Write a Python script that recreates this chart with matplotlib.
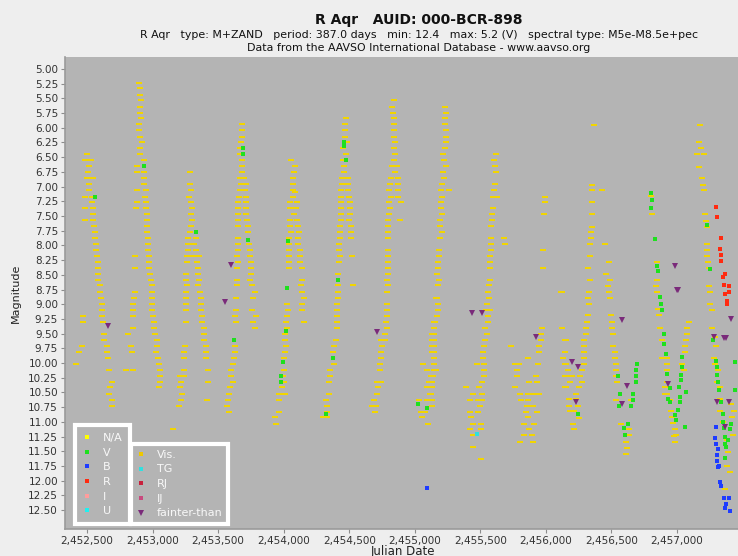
import matplotlib
matplotlib.use("Agg")
import matplotlib.pyplot as plt
from matplotlib.lines import Line2D
from matplotlib.path import Path
from matplotlib.ticker import FuncFormatter
import numpy as np

# Visual (Vis.) estimates, one list per cycle: (Julian Date, magnitude)
cycle01 = [(2452497,6.45),(2452487,6.55),(2452533,6.55),(2452518,6.65),(2452510,6.76),(2452497,6.86),(2452520,6.86),
           (2452543,6.86),(2452515,6.96),(2452518,7.06),(2452485,7.17),(2452536,7.17),(2452536,7.27),(2452485,7.36),
           (2452548,7.36),(2452548,7.47),(2452487,7.57),(2452548,7.57),(2452556,7.67),(2452564,7.78),(2452564,7.88),
           (2452569,7.98),(2452571,8.08),(2452576,8.18),(2452587,8.29),(2452584,8.38),(2452587,8.49),(2452587,8.59),
           (2452599,8.68),(2452602,8.79),(2452604,8.89),(2452612,8.99),(2452612,9.10),(2452472,9.20),(2452617,9.20),
           (2452467,9.30),(2452620,9.30),(2452630,9.51),(2452630,9.61),(2452464,9.71),(2452650,9.71),(2452439,9.81),
           (2452650,9.81),(2452658,9.91),(2452413,10.02),(2452671,10.12),(2452694,10.32),(2452678,10.41),
           (2452671,10.52),(2452691,10.63),(2452689,10.73)]
cycle02 = [(2452895,5.23),(2452905,5.33),(2452903,5.44),(2452908,5.53),(2452905,5.64),(2452905,5.74),(2452908,5.84),
           (2452900,5.94),(2452900,6.04),(2452905,6.15),(2452918,6.24),(2452905,6.34),(2452905,6.45),(2452931,6.55),
           (2452880,6.65),(2452880,6.76),(2452931,6.76),(2452933,6.86),(2452936,6.96),(2452880,7.06),(2452951,7.06),
           (2452946,7.17),(2452880,7.27),(2452948,7.27),(2452875,7.36),(2452951,7.36),(2452956,7.47),(2452961,7.57),
           (2452959,7.67),(2452961,7.78),(2452966,7.88),(2452966,7.98),(2452964,8.08),(2452867,8.18),(2452969,8.18),
           (2452971,8.29),(2452869,8.38),(2452974,8.38),(2452982,8.49),(2452987,8.59),(2452994,8.68),(2452864,8.79),
           (2452994,8.79),(2452862,8.89),(2452994,8.89),(2452849,8.99),(2452997,8.99),(2452847,9.10),(2452994,9.10),
           (2452847,9.20),(2453007,9.20),(2453012,9.30),(2452849,9.40),(2453012,9.40),(2452813,9.51),(2453017,9.51),
           (2453030,9.61),(2452839,9.71),(2453033,9.71),(2452841,9.81),(2453025,9.81),(2453045,9.91),(2453048,10.02),
           (2452796,10.12),(2452854,10.12),(2453058,10.12),(2453053,10.22),(2453058,10.32),(2453048,10.41)]
cycle03 = [(2453285,6.76),(2453287,6.96),(2453295,7.06),(2453280,7.17),(2453290,7.27),(2453300,7.36),(2453295,7.47),
           (2453300,7.57),(2453295,7.67),(2453287,7.78),(2453267,7.88),(2453331,7.88),(2453269,7.98),(2453318,7.98),
           (2453267,8.08),(2453331,8.08),(2453262,8.18),(2453305,8.18),(2453351,8.18),(2453262,8.29),(2453341,8.29),
           (2453343,8.38),(2453257,8.49),(2453348,8.49),(2453257,8.59),(2453351,8.59),(2453262,8.68),(2453346,8.68),
           (2453252,8.79),(2453359,8.79),(2453257,8.89),(2453366,8.89),(2453254,8.99),(2453369,8.99),(2453252,9.10),
           (2453366,9.10),(2453376,9.20),(2453252,9.30),(2453379,9.30),(2453389,9.40),(2453389,9.51),(2453394,9.61),
           (2453247,9.71),(2453404,9.71),(2453239,9.81),(2453404,9.81),(2453236,9.91),(2453404,9.91),(2453236,10.12),
           (2453420,10.12),(2453206,10.22),(2453236,10.22),(2453219,10.32),(2453420,10.32),(2453206,10.41),
           (2453226,10.52),(2453216,10.63),(2453417,10.63),(2453198,10.73),(2453155,11.13)]
cycle04 = [(2453682,5.94),(2453682,6.04),(2453682,6.15),(2453677,6.24),(2453670,6.34),(2453670,6.45),(2453682,6.55),
           (2453682,6.65),(2453682,6.76),(2453667,6.86),(2453700,6.86),(2453672,6.96),(2453710,6.96),(2453664,7.06),
           (2453705,7.06),(2453657,7.17),(2453713,7.17),(2453652,7.27),(2453715,7.27),(2453652,7.36),(2453715,7.36),
           (2453652,7.47),(2453715,7.47),(2453652,7.57),(2453723,7.57),(2453652,7.67),(2453726,7.67),(2453728,7.78),
           (2453652,7.88),(2453652,7.98),(2453738,7.98),(2453652,8.08),(2453741,8.08),(2453642,8.18),(2453741,8.18),
           (2453652,8.29),(2453749,8.29),(2453644,8.38),(2453749,8.38),(2453751,8.49),(2453644,8.59),(2453746,8.59),
           (2453644,8.68),(2453761,8.68),(2453779,8.79),(2453639,8.89),(2453766,8.89),(2453639,9.10),(2453759,9.10),
           (2453631,9.20),(2453789,9.20),(2453634,9.30),(2453764,9.30),(2453784,9.40),(2453626,9.71),(2453629,9.81),
           (2453624,9.91),(2453614,10.02),(2453598,10.12),(2453601,10.22),(2453611,10.32),(2453588,10.41),
           (2453580,10.52),(2453573,10.63),(2453568,10.73),(2453585,10.83)]
cycle05 = [(2454059,6.55),(2454085,6.65),(2454077,6.76),(2454072,6.86),(2454070,6.96),(2454070,7.06),(2454090,7.09),
           (2454070,7.17),(2454052,7.27),(2454098,7.27),(2454047,7.36),(2454095,7.36),(2454077,7.47),(2454052,7.57),
           (2454103,7.57),(2454052,7.67),(2454108,7.67),(2454057,7.78),(2454118,7.78),(2454044,7.88),(2454108,7.88),
           (2454042,7.98),(2454113,7.98),(2454039,8.08),(2454121,8.08),(2454039,8.18),(2454123,8.18),(2454039,8.29),
           (2454128,8.29),(2454039,8.38),(2454138,8.38),(2454141,8.59),(2454136,8.68),(2454143,8.79),(2454154,8.89),
           (2454026,8.99),(2454143,8.99),(2454034,9.10),(2454143,9.10),(2454026,9.20),(2454019,9.30),(2454154,9.30),
           (2454026,9.40),(2454014,9.51),(2454011,9.61),(2454016,9.71),(2454014,9.81),(2454001,9.91),(2454001,10.12),
           (2453996,10.22),(2454006,10.32),(2453986,10.41),(2453965,10.52),(2454008,10.52),(2453965,10.63),
           (2453968,10.83),(2453937,10.92),(2453945,11.03)]
cycle06 = [(2454472,5.84),(2454467,5.94),(2454465,6.04),(2454465,6.15),(2454480,6.24),(2454455,6.34),(2454472,6.45),
           (2454455,6.55),(2454460,6.65),(2454460,6.76),(2454447,6.86),(2454493,6.86),(2454447,6.96),(2454493,6.96),
           (2454434,7.06),(2454493,7.06),(2454434,7.17),(2454498,7.17),(2454434,7.27),(2454503,7.27),(2454434,7.36),
           (2454503,7.36),(2454434,7.47),(2454503,7.47),(2454434,7.57),(2454498,7.57),(2454429,7.67),(2454516,7.67),
           (2454429,7.78),(2454511,7.78),(2454429,7.88),(2454516,7.88),(2454421,7.98),(2454421,8.08),(2454427,8.18),
           (2454523,8.18),(2454424,8.29),(2454414,8.49),(2454414,8.68),(2454531,8.68),(2454416,8.79),(2454414,8.89),
           (2454409,8.99),(2454409,9.10),(2454404,9.20),(2454409,9.30),(2454404,9.40),(2454396,9.61),(2454383,9.71),
           (2454378,9.81),(2454383,10.02),(2454353,10.12),(2454353,10.22),(2454348,10.32),(2454345,10.52),
           (2454320,10.63),(2454327,10.73),(2454332,10.83),(2454302,10.92),(2454327,10.92)]
cycle07 = [(2454842,5.53),(2454829,5.64),(2454837,5.74),(2454842,5.84),(2454842,5.94),(2454842,6.04),(2454842,6.15),
           (2454847,6.24),(2454842,6.34),(2454850,6.45),(2454842,6.55),(2454829,6.65),(2454862,6.65),(2454850,6.76),
           (2454816,6.86),(2454872,6.86),(2454811,6.96),(2454875,6.96),(2454806,7.06),(2454875,7.06),(2454816,7.17),
           (2454875,7.17),(2454806,7.27),(2454893,7.27),(2454809,7.36),(2454806,7.47),(2454798,7.57),(2454885,7.57),
           (2454798,7.67),(2454798,7.78),(2454798,7.88),(2454798,8.08),(2454798,8.18),(2454793,8.29),(2454796,8.38),
           (2454796,8.49),(2454791,8.59),(2454793,8.68),(2454791,8.79),(2454791,8.99),(2454788,9.10),(2454788,9.20),
           (2454781,9.30),(2454791,9.40),(2454773,9.51),(2454740,9.61),(2454773,9.61),(2454753,9.71),(2454740,9.81),
           (2454740,9.91),(2454735,10.02),(2454735,10.12),(2454714,10.32),(2454740,10.32),(2454717,10.41),
           (2454712,10.52),(2454689,10.63),(2454676,10.73),(2454702,10.73),(2454694,10.83)]
cycle08 = [(2455160,8.89),(2455148,9.30),(2455148,9.40),(2455135,9.51),(2455135,9.61),(2455135,9.71),(2455135,9.81),
           (2455148,9.91),(2455066,10.02),(2455148,10.02),(2455097,10.12),(2455148,10.12),(2455122,10.22),
           (2455109,10.32),(2455092,10.41),(2455117,10.52),(2455033,10.63),(2455097,10.63),(2455135,10.73),
           (2455076,10.83),(2455046,10.83),(2455058,10.92),(2455102,11.03),
           (2455232,5.64),(2455237,5.74),(2455232,5.84),(2455229,5.94),(2455237,6.04),(2455237,6.15),(2455237,6.24),
           (2455232,6.34),(2455214,6.45),(2455224,6.55),(2455237,6.65),(2455214,6.76),(2455224,6.86),(2455209,6.96),
           (2455199,7.06),(2455262,7.06),(2455204,7.17),(2455199,7.27),(2455199,7.36),(2455204,7.47),(2455194,7.57),
           (2455194,7.67),(2455204,7.78),(2455194,7.88),(2455186,8.08),(2455186,8.18),(2455181,8.29),(2455178,8.38),
           (2455173,8.49),(2455186,8.59),(2455178,8.68),(2455173,8.89),(2455178,8.99),(2455178,9.10),(2455168,9.20),
           (2455158,9.30),(2455148,9.40),(2455143,9.51),(2455143,9.61),(2455143,9.71),(2455143,9.81),(2455148,9.91),
           (2455143,10.02),(2455143,10.12),(2455160,10.12),(2455137,10.22),(2455130,10.32),(2455130,10.41),
           (2455122,10.52),(2455130,10.63),(2455130,10.73)]
cycle09 = [(2455622,6.45),(2455606,6.55),(2455611,6.65),(2455619,6.76),(2455611,6.96),(2455606,7.06),(2455596,7.17),
           (2455627,7.17),(2455599,7.36),(2455589,7.47),(2455589,7.57),(2455583,7.67),(2455583,7.88),(2455683,7.88),
           (2455583,7.98),(2455688,7.98),(2455581,8.08),(2455573,8.18),(2455573,8.29),(2455571,8.38),(2455571,8.59),
           (2455568,8.68),(2455561,8.79),(2455563,8.89),(2455550,8.99),(2455543,9.10),(2455571,9.10),(2455555,9.20),
           (2455558,9.30),(2455538,9.40),(2455550,9.51),(2455538,9.61),(2455530,9.71),(2455517,9.81),(2455520,9.91),
           (2455474,10.02),(2455530,10.02),(2455530,10.12),(2455525,10.22),(2455512,10.32),(2455390,10.41),
           (2455492,10.41),(2455448,10.52),(2455510,10.52),(2455418,10.63),(2455479,10.63),(2455510,10.63),
           (2455497,10.73),(2455418,10.83),(2455479,10.83),(2455428,10.92),(2455448,11.03),(2455507,11.03),
           (2455418,11.13),(2455504,11.13),(2455446,11.23),(2455448,11.43),(2455504,11.64)]
cycle10 = [(2455734,9.71),(2455767,10.02),(2455797,10.02),(2455780,10.12),(2455777,10.22),(2455767,10.41),
           (2455805,10.52),(2455861,10.52),(2455899,10.52),(2455950,10.52),(2455810,10.63),(2455861,10.63),
           (2455854,10.73),(2455899,10.73),(2455848,10.83),(2455933,10.83),(2455861,10.92),(2455836,11.03),
           (2455912,11.03),(2455869,11.13),(2455831,11.23),(2455892,11.23),(2455805,11.34),(2455904,11.34),
           (2455866,9.91),(2455869,10.32),(2455933,10.32),(2455927,10.22),(2455938,10.02),(2455950,9.81),
           (2455950,9.71),(2455963,9.61),(2455963,9.51),(2455968,9.40),(2455996,7.17),(2455994,7.27),(2455983,7.47),
           (2455978,8.08),(2455976,8.38),(2456121,8.79),(2456121,9.40),(2456149,9.61),(2456149,9.81),(2456149,10.02),
           (2456149,10.22),(2456149,10.41)]
cycle11 = [(2456371,5.95),(2456350,6.97),(2456353,7.06),(2456429,7.06),(2456353,7.27),(2456353,7.47),(2456353,7.68),
           (2456345,7.78),(2456345,7.88),(2456340,7.98),(2456455,7.98),(2456340,8.18),(2456320,8.39),(2456478,8.29),
           (2456333,8.59),(2456460,8.49),(2456493,8.59),(2456327,8.79),(2456485,8.79),(2456473,8.69),(2456325,8.90),
           (2456491,8.90),(2456327,8.99),(2456325,9.19),(2456498,9.19),(2456116,8.79),(2456312,9.30),(2456501,9.30),
           (2456307,9.40),(2456506,9.40),(2456307,9.51),(2456511,9.51),(2456289,9.61),(2456154,9.61),
           (2456289,9.71),(2456516,9.71),(2456289,9.81),(2456524,9.81),(2456129,9.91),(2456294,9.91),(2456531,9.91),
           (2456154,10.01),(2456294,10.01),(2456536,10.01),(2456167,10.12),(2456274,10.12),(2456536,10.12),
           (2456154,10.22),(2456200,10.22),(2456264,10.22),(2456536,10.22),(2456187,10.32),(2456274,10.32),
           (2456541,10.32),(2456154,10.41),(2456256,10.41),(2456231,10.52),(2456180,10.62),(2456231,10.62),
           (2456536,10.63),(2456651,10.63),(2456180,10.73),(2456243,10.73),(2456187,10.82),(2456218,10.82),
           (2456251,10.93),(2456210,11.03),(2456575,11.03),(2456218,11.13),(2456638,11.13),(2456638,11.22),
           (2456608,11.34),(2456618,11.44),(2456608,11.54)]
cycle12 = [(2456804,7.16),(2456809,7.47),(2456847,8.28),(2456850,8.59),(2456837,8.69),(2456845,8.79),(2456855,9.09),
           (2456860,9.19),(2456870,9.40),(2456888,9.61),(2456885,9.91),(2456924,9.91),(2456926,10.01),(2456924,10.12),
           (2456926,10.32),(2456911,10.41),(2456911,10.52),(2456926,10.52),(2456944,10.63),(2456952,10.82),
           (2456964,10.91),(2456970,11.02),(2456982,11.12),(2456995,11.23),(2456977,11.24),(2456982,11.34),
           (2457038,10.01),(2457054,10.12),(2457064,9.81),(2457064,9.71),(2457071,9.61),(2457079,9.51),
           (2457079,9.40),(2457089,9.30)]
cycle13 = [(2457173,5.95),(2457166,6.24),(2457181,6.35),(2457156,6.45),(2457207,6.45),(2457166,6.66),(2457194,6.86),
           (2457199,6.97),(2457204,7.06),(2457212,7.47),(2457224,7.58),(2457227,7.68),(2457229,7.98),(2457232,8.08),
           (2457229,8.18),(2457237,8.28),(2457242,8.39),(2457245,8.69),(2457252,8.79),(2457255,8.99),(2457268,9.10),
           (2457268,9.40),(2457288,9.56),(2457296,9.71),(2457283,9.91),(2457288,10.02),(2457314,10.12),
           (2457303,10.32),(2457326,10.41),(2457329,10.62),(2457415,10.70),(2457331,10.82),(2457436,10.82),
           (2457423,10.92),(2457431,11.23),(2457352,11.00),(2457385,11.31),(2457390,11.52),(2457382,11.75),
           (2457403,11.85),(2457364,12.15)]

# Johnson V observations
v_obs = [(2452559,7.17),(2452931,6.65),(2453333,7.78),(2453692,6.34),(2453690,6.45),(2453728,7.90),(2453621,9.61),
         (2454031,7.92),(2454029,8.73),(2454021,9.45),(2453998,9.99),(2453978,10.22),(2453978,10.32),(2454460,6.24),
         (2454460,6.31),(2454477,6.55),(2454414,8.59),(2454376,9.91),(2454325,10.86),(2455025,10.70),(2455092,10.76),
         (2456694,10.01),(2456689,10.12),(2456549,10.22),(2456689,10.22),(2456684,10.32),(2456562,10.52),
         (2456664,10.52),(2456664,10.63),(2456557,10.73),(2456651,10.73),(2456248,10.87),(2456626,11.03),
         (2456595,11.11),(2456600,11.22),
         (2456799,7.11),(2456812,7.23),(2456799,7.37),(2456835,7.89),(2456850,8.35),(2456855,8.44),(2456870,8.88),
         (2456880,8.99),(2456885,9.10),(2456901,9.51),(2456901,9.68),(2456919,9.85),(2456921,10.18),(2456944,10.43),
         (2456931,10.62),(2456949,10.67),(2456982,10.88),(2456995,10.97),(2457008,10.80),(2457021,10.66),
         (2457026,10.57),(2457013,10.40),(2457033,10.29),(2457033,10.20),(2457038,10.06),(2457038,9.89),
         (2457071,10.49),(2457059,11.08),
         (2457227,7.65),(2457252,8.40),(2457275,9.61),(2457301,9.96),(2457303,10.06),(2457306,10.20),(2457314,10.33),
         (2457319,10.46),(2457441,9.98),(2457446,10.46),(2457349,11.00),(2457357,11.11),(2457364,11.25),
         (2457370,11.37),(2457377,11.42),(2457390,11.31),(2457403,11.12),(2457415,11.03),(2457364,11.62),
         (2457352,10.87),(2457339,10.66)]
b_obs = [(2455092,12.13),(2457301,11.09),(2457293,11.28),(2457301,11.37),(2457314,11.46),(2457303,11.56),
         (2457306,11.67),(2457319,11.75),(2457311,11.77),(2457329,12.02),(2457334,12.09),(2457359,12.30),
         (2457395,12.30),(2457372,12.39),(2457370,12.47),(2457403,12.52)]
r_obs = [(2457296,7.35),(2457303,7.52),(2457334,7.87),(2457329,8.06),(2457334,8.16),(2457339,8.27),(2457370,8.48),
         (2457352,8.54),(2457357,8.67),(2457398,8.69),(2457364,8.82),(2457398,8.79),(2457382,8.94),(2457385,8.99)]
tg_obs = [(2455474,11.20)]
fainter = [(2452663,9.37),(2453601,8.34),(2453550,8.96),(2454714,9.47),(2455436,9.15),(2455510,9.15),(2455927,9.56),
           (2456580,9.27),(2456200,9.98),(2456243,10.07),(2456231,10.66),(2456582,10.69),(2456621,10.39),
           (2456931,10.36),(2456982,8.35),(2456998,8.76),(2457008,8.76),(2457410,9.26),(2457283,9.55),
           (2457357,9.57),(2457377,9.57),(2457398,10.67),(2457364,11.09),(2457308,10.66)]

band_labels = ["N/A", "V", "B", "R", "I", "U"]
band_colors = ["#FFFF00", "#1EE01E", "#1E3CFF", "#FF2A10", "#FF9C9C", "#20F0F0"]
type_labels = ["Vis.", "TG", "RJ", "IJ", "fainter-than"]
type_colors = ["#EEC800", "#30E0E0", "#C8203C", "#C84A7E", "#7A2A7A"]

vis = np.array(cycle01 + cycle02 + cycle03 + cycle04 + cycle05 + cycle06 + cycle07 +
               cycle08 + cycle09 + cycle10 + cycle11 + cycle12 + cycle13)
v_arr = np.array(v_obs)
b_arr = np.array(b_obs)
r_arr = np.array(r_obs)
tg_arr = np.array(tg_obs)
ft_arr = np.array(fainter)

# short horizontal dash, like the visual estimates in the AAVSO plot
dash = Path([(-1, -0.42), (1, -0.42), (1, 0.42), (-1, 0.42), (-1, -0.42)],
            [Path.MOVETO, Path.LINETO, Path.LINETO, Path.LINETO, Path.CLOSEPOLY])

fig = plt.figure(figsize=(7.38, 5.56), dpi=100, facecolor="#EEEEEE")
ax = fig.add_axes([65/738, 1-529/556, 1-65/738+0.002, (529-57)/556])
ax.set_facecolor("#B4B4B4")

ax.plot(vis[:, 0], vis[:, 1], ls="none", marker=dash, ms=4.0, mew=0, color="#F2D500")
ax.plot(tg_arr[:, 0], tg_arr[:, 1], ls="none", marker="s", ms=2.6, mew=0, color=type_colors[1])
ax.plot(v_arr[:, 0], v_arr[:, 1], ls="none", marker="s", ms=2.8, mew=0, color=band_colors[1])
ax.plot(b_arr[:, 0], b_arr[:, 1], ls="none", marker="s", ms=2.8, mew=0, color=band_colors[2])
ax.plot(r_arr[:, 0], r_arr[:, 1], ls="none", marker="s", ms=2.8, mew=0, color=band_colors[3])
ax.plot(ft_arr[:, 0], ft_arr[:, 1], ls="none", marker="v", ms=5, mew=0, color=type_colors[4])

ax.set_xlim(2452332, 2457477)
ax.set_ylim(12.823, 4.796)
ax.set_xticks(np.arange(2452500, 2457001, 500))
ax.set_yticks(np.arange(5.0, 12.51, 0.25))
ax.xaxis.set_major_formatter(FuncFormatter(lambda v, p: f"{v:,.0f}"))
ax.yaxis.set_major_formatter(FuncFormatter(lambda v, p: f"{v:.2f}"))
ax.tick_params(axis="both", direction="out", length=3, width=0.8, color="#8C8C8C",
               labelsize=7.5, labelcolor="#333333", pad=2)

for side in ["top", "right"]:
    ax.spines[side].set_visible(False)
for side in ["left", "bottom"]:
    ax.spines[side].set_color("#9A9A9A")
    ax.spines[side].set_linewidth(1.2)

ax.set_ylabel("Magnitude", fontsize=8, color="#222222", labelpad=5)
fig.text(403/738, 1-551/556, "Julian Date", ha="center", va="center", fontsize=8.5, color="#222222")

fig.text(419/738, 1-20/556, "R Aqr   AUID: 000-BCR-898", ha="center", va="center",
         fontsize=10, fontweight="bold", color="#111111")
fig.text(419/738, 1-35/556,
         "R Aqr   type: M+ZAND   period: 387.0 days   min: 12.4   max: 5.2 (V)   spectral type: M5e-M8.5e+pec",
         ha="center", va="center", fontsize=7.9, color="#111111")
fig.text(419/738, 1-48/556, "Data from the AAVSO International Database - www.aavso.org",
         ha="center", va="center", fontsize=7.9, color="#111111")

# two legend boxes, bottom left
h1 = [Line2D([], [], ls="none", marker="s", ms=3, mew=0, color=c) for c in band_colors]
h2 = [Line2D([], [], ls="none", marker="s", ms=3, mew=0, color=c) for c in type_colors[:4]]
h2.append(Line2D([], [], ls="none", marker="v", ms=5, mew=0, color=type_colors[4]))

leg_kw = dict(loc="lower left", bbox_transform=fig.transFigure, fontsize=8, labelcolor="#F8F8F8",
              fancybox=False, framealpha=1, handlelength=0.8, handletextpad=1.0,
              labelspacing=0.42, borderaxespad=0)
leg1 = ax.legend(h1, band_labels, bbox_to_anchor=(75/738, 1-524/556), borderpad=0.7, **leg_kw)
leg2 = ax.legend(h2, type_labels, bbox_to_anchor=(131/738, 1-524/556), borderpad=0.5, **leg_kw)
ax.add_artist(leg1)
for leg in (leg1, leg2):
    fr = leg.get_frame()
    fr.set_facecolor("#B4B4B4")
    fr.set_edgecolor("#FFFFFF")
    fr.set_linewidth(3)

fig.savefig("out.png", dpi=100, facecolor=fig.get_facecolor())
